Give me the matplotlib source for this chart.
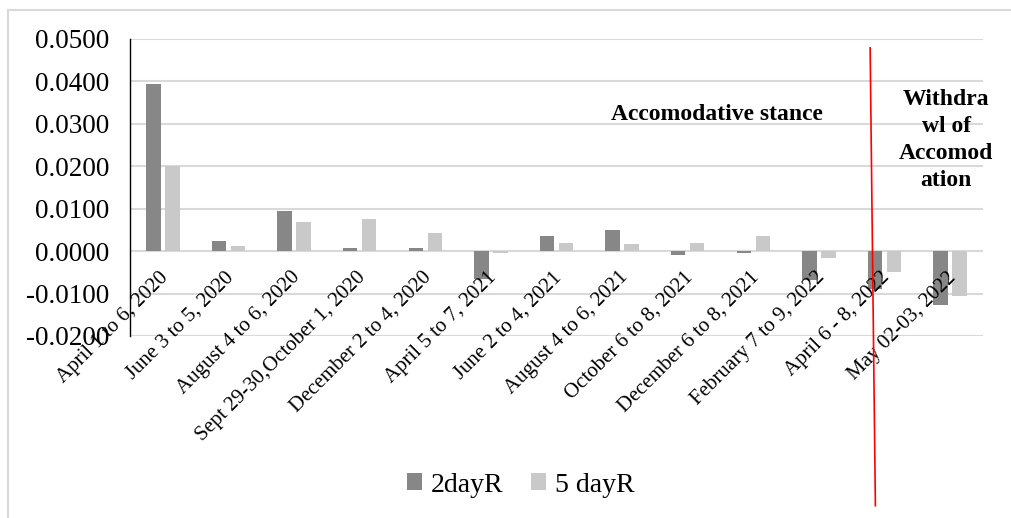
import matplotlib
matplotlib.use("Agg")
import matplotlib.pyplot as plt
from matplotlib.patches import Rectangle
import numpy as np

# Policy meeting windows and the announcement returns for each
meetings = [
    "April 1 to 6, 2020",
    "June 3 to 5, 2020",
    "August 4 to 6, 2020",
    "Sept 29-30,October 1, 2020",
    "December 2 to 4, 2020",
    "April 5 to 7, 2021",
    "June 2 to 4, 2021",
    "August 4 to 6, 2021",
    "October 6 to 8, 2021",
    "December 6 to 8, 2021",
    "February 7 to 9, 2022",
    "April 6 - 8, 2022",
    "May 02-03, 2022",
]
ret_2day = [0.0395, 0.0024, 0.0095, 0.0008, 0.0008, -0.0065, 0.0035,
            0.0049, -0.0009, -0.0005, -0.0069, -0.0090, -0.0127]
ret_5day = [0.0200, 0.0012, 0.0068, 0.0075, 0.0042, -0.0005, 0.0020,
            0.0017, 0.0018, 0.0035, -0.0016, -0.0049, -0.0105]
series_names = ["2dayR", "5 dayR"]
yticks = [-0.02, -0.01, 0.0, 0.01, 0.02, 0.03, 0.04, 0.05]

DARK = "#878787"
LIGHT = "#c9c9c9"
GRID = "#d9d9d9"

plt.rcParams["font.family"] = ["Liberation Serif", "DejaVu Serif"]

fig = plt.figure(figsize=(10.11, 5.18), dpi=100)
ax = fig.add_axes([0.1286, 0.3514, 0.8437, 0.5734])

# chart-area frame
fig.patches.append(Rectangle((8 / 1011, -0.1), 1.2, 1.1 - 10 / 518,
                             transform=fig.transFigure, fill=False,
                             edgecolor=GRID, lw=1.5, zorder=0))

x = np.arange(len(meetings))
bw = 0.22
off = 0.145
ax.bar(x - off, ret_2day, bw, color=DARK, label=series_names[0], zorder=3)
ax.bar(x + off, ret_5day, bw, color=LIGHT, label=series_names[1], zorder=3)

ax.set_xlim(-0.5, len(meetings) - 0.5)
ax.set_ylim(yticks[0], yticks[-1])
ax.set_yticks(yticks)
ax.set_yticklabels([f"{v:.4f}" for v in yticks], fontsize=19.5)
ax.tick_params(axis="y", length=0, pad=15)
ax.set_xticks([])
ax.grid(axis="y", color=GRID, lw=1.5, zorder=0)
ax.set_axisbelow(True)
for s in ["top", "right", "bottom"]:
    ax.spines[s].set_visible(False)
ax.spines["left"].set_color("black")
ax.spines["left"].set_linewidth(1.0)
ax.spines["left"].set_zorder(4)

# category labels hang from the zero line
for i, lab in enumerate(meetings):
    ax.annotate(lab, xy=(i, 0), xytext=(2, -17), textcoords="offset points",
                rotation=45, rotation_mode="anchor", ha="right", va="center",
                fontsize=15, zorder=5, annotation_clip=False)

# regime divider
ax.plot([10.78, 10.86], [0.0479, -0.0600], color="red", lw=1.2,
        clip_on=False, zorder=6)

ax.text(8.45, 0.0321, "Accomodative stance", fontsize=17, fontweight="bold",
        ha="center", va="center")
ax.text(11.94, 0.0262, "Withdra\nwl of\nAccomod\nation", fontsize=17,
        fontweight="bold", ha="center", va="center", linespacing=1.38)

ax.legend(loc="center", bbox_to_anchor=(0.515, 1 - 485 / 518),
          bbox_transform=fig.transFigure, ncol=2, frameon=False,
          fontsize=20, handlelength=0.55, handleheight=0.55,
          handletextpad=0.3, columnspacing=1.0)

fig.savefig("out.png", dpi=100)
